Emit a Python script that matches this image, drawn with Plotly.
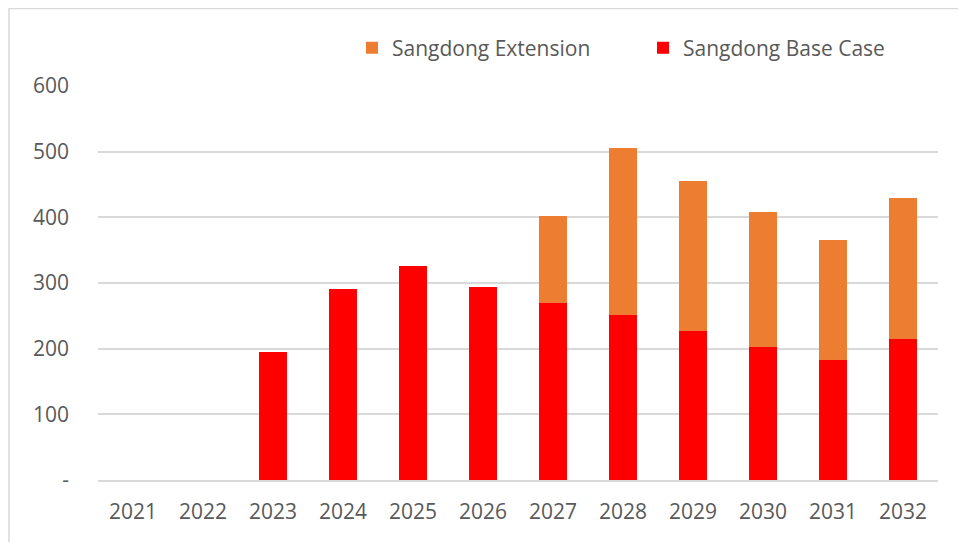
import plotly.graph_objects as go

years = ["2021", "2022", "2023", "2024", "2025", "2026", "2027", "2028", "2029", "2030", "2031", "2032"]
base_case = [0, 0, 195, 291, 326, 294, 269, 252, 227, 203, 182, 214]
extension = [0, 0, 0, 0, 0, 0, 133, 253, 228, 205, 184, 215]
ytick_vals = [0, 100, 200, 300, 400, 500, 600]
ytick_text = ["-", "100", "200", "300", "400", "500", "600"]

font_family = "Open Sans"
text_color = "#595959"
grid_color = "#d9d9d9"

# page has an 8px body margin; figure coordinates below are offset for it
W, H = 958, 534
L, R, T, B = 90, 28, 78, 62
PW, PH = W - L - R, H - T - B

fig = go.Figure()
fig.add_trace(go.Bar(x=years, y=base_case, name="Sangdong Base Case",
                     marker=dict(color="#ff0000", line=dict(width=0)),
                     legend="legend2"))
fig.add_trace(go.Bar(x=years, y=extension, name="Sangdong Extension",
                     marker=dict(color="#ed7d31", line=dict(width=0)),
                     legend="legend"))

leg_common = dict(orientation="h", yanchor="middle", xanchor="left",
                  bgcolor="rgba(0,0,0,0)",
                  font=dict(size=21, color=text_color, family=font_family),
                  itemclick=False, itemdoubleclick=False)

leg_y = (H - B - 40) / PH
fig.update_layout(
    barmode="stack",
    bargap=0.6,
    width=W, height=H,
    margin=dict(l=L, r=R, t=T, b=B, autoexpand=False),
    paper_bgcolor="white",
    plot_bgcolor="white",
    font=dict(family=font_family, color=text_color, size=21),
    showlegend=True,
    legend=dict(x=(344 - L) / PW, y=leg_y, **leg_common),
    legend2=dict(x=(635 - L) / PW, y=leg_y, **leg_common),
    xaxis=dict(showgrid=False, showline=True, linecolor=grid_color, linewidth=1.5,
               ticks="", ticklabelstandoff=12,
               tickfont=dict(size=21, color=text_color)),
    yaxis=dict(range=[0, 600], tickvals=ytick_vals, ticktext=ytick_text,
               showgrid=True, gridcolor=grid_color, gridwidth=1.5,
               zeroline=False, showline=False, ticks="",
               ticklabelstandoff=28,
               tickfont=dict(size=21, color=text_color)),
    shapes=[dict(type="rect", xref="paper", yref="paper",
                 x0=(1 - L) / PW, x1=(955 - L) / PW,
                 y0=(H - B - 560) / PH, y1=(H - B - 0.5) / PH,
                 line=dict(color=grid_color, width=1.5), layer="below")],
)

fig.write_html("out.html")
